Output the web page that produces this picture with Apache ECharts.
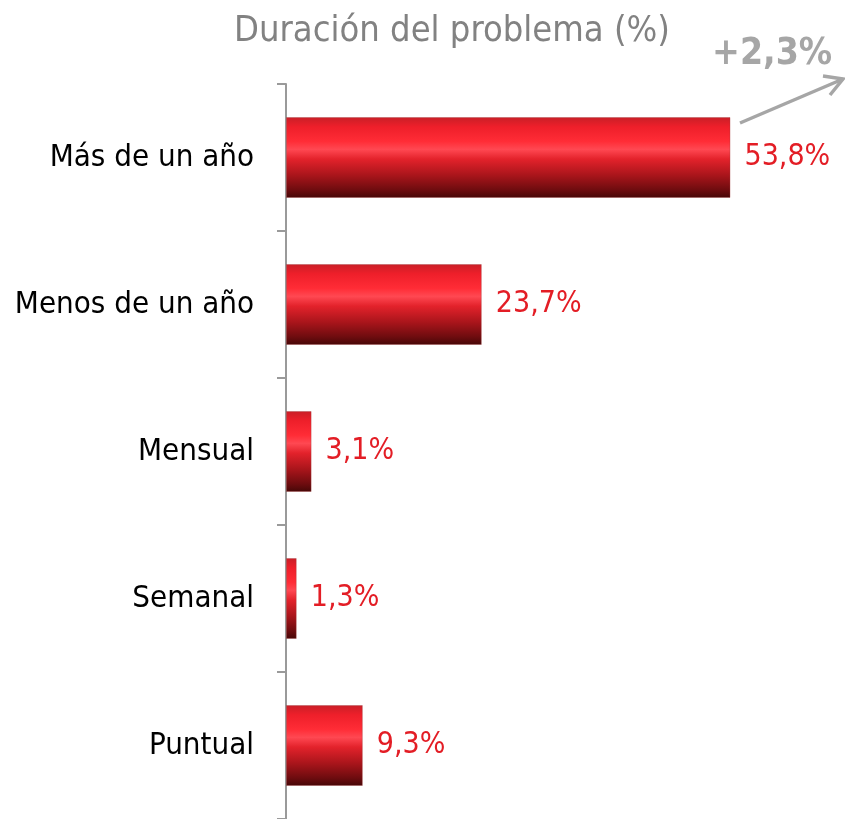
<!DOCTYPE html>
<html>
<head>
<meta charset="utf-8">
<script src="https://cdn.jsdelivr.net/npm/echarts@6/dist/echarts.min.js"></script>
<style>
  html, body { margin: 0; padding: 0; background: #fff; }
  #chart { width: 845px; height: 819px; }
</style>
</head>
<body>
<div id="chart"></div>
<script>
const categories = ['Más de un año', 'Menos de un año', 'Mensual', 'Semanal', 'Puntual']
const values = [53.8, 23.7, 3.1, 1.3, 9.3]
const title = 'Duración del problema (%)'
const change = '+2,3%'

const FONT = '"DejaVu Sans Condensed", "DejaVu Sans", Verdana, sans-serif'

const barColor = new echarts.graphic.LinearGradient(0, 0, 0, 1, [
  { offset: 0, color: '#c81f27' },
  { offset: 0.12, color: '#ee1f2a' },
  { offset: 0.3, color: '#ff2c36' },
  { offset: 0.4, color: '#ff4852' },
  { offset: 0.52, color: '#e3222b' },
  { offset: 0.72, color: '#a9151b' },
  { offset: 0.9, color: '#6e0c0f' },
  { offset: 1, color: '#450707' }
])

const chart = echarts.init(document.getElementById('chart'), null, { renderer: 'canvas' })

chart.setOption({
  animation: false,
  title: {
    text: title,
    left: 447,
    top: 9,
    textAlign: 'center',
    textStyle: { fontFamily: FONT, fontSize: 36, fontWeight: 'normal', color: '#828282' }
  },
  grid: { left: 286, right: 55, top: 84, bottom: 0, containLabel: false },
  xAxis: {
    type: 'value',
    min: 0,
    max: 61,
    show: false
  },
  yAxis: {
    type: 'category',
    inverse: true,
    data: categories,
    axisLine: { lineStyle: { color: '#9a9a9a', width: 2 } },
    axisTick: { show: true, inside: false, length: 9, lineStyle: { color: '#9a9a9a', width: 2 } },
    axisLabel: { fontFamily: FONT, fontSize: 31, color: '#000', margin: 32 }
  },
  series: [{
    type: 'bar',
    data: values,
    barWidth: 81,
    itemStyle: { color: barColor, borderColor: 'rgba(160,60,60,0.35)', borderWidth: 1 },
    label: {
      show: true,
      position: 'right',
      distance: 14,
      fontFamily: FONT,
      fontSize: 30,
      color: '#e31d25',
      formatter: p => p.value.toFixed(1).replace('.', ',') + '%'
    }
  }],
  graphic: [
    {
      type: 'text',
      left: 712,
      top: 36,
      style: { text: change, fontFamily: FONT, fontSize: 37, fontWeight: 'bold', fill: '#a6a6a6' }
    },
    {
      type: 'line',
      shape: { x1: 740, y1: 123, x2: 843, y2: 79 },
      style: { stroke: '#a6a6a6', lineWidth: 3.5 }
    },
    {
      type: 'polyline',
      shape: { points: [[823, 76], [843, 79], [830, 95]] },
      style: { stroke: '#a6a6a6', lineWidth: 3.5, fill: null }
    }
  ]
})
</script>
</body>
</html>
